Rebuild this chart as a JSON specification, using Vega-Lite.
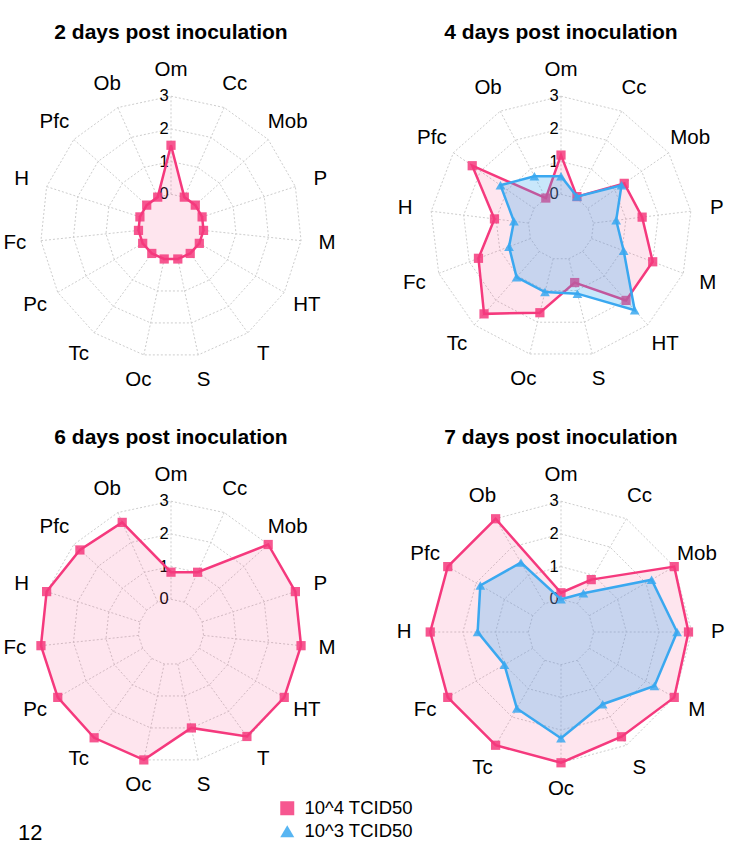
{
  "$schema": "https://vega.github.io/schema/vega-lite/v6.json",
  "padding": {"left": 1, "top": 22, "right": 0, "bottom": 0},
  "data": {"values": [
    {"panel": "2 days post inoculation", "series": "10^4 TCID50", "axis": "Om", "value": 1.5},
    {"panel": "2 days post inoculation", "series": "10^4 TCID50", "axis": "Cc", "value": 0},
    {"panel": "2 days post inoculation", "series": "10^4 TCID50", "axis": "Mob", "value": 0},
    {"panel": "2 days post inoculation", "series": "10^4 TCID50", "axis": "P", "value": 0},
    {"panel": "2 days post inoculation", "series": "10^4 TCID50", "axis": "M", "value": 0},
    {"panel": "2 days post inoculation", "series": "10^4 TCID50", "axis": "HT", "value": 0},
    {"panel": "2 days post inoculation", "series": "10^4 TCID50", "axis": "T", "value": 0},
    {"panel": "2 days post inoculation", "series": "10^4 TCID50", "axis": "S", "value": 0},
    {"panel": "2 days post inoculation", "series": "10^4 TCID50", "axis": "Oc", "value": 0},
    {"panel": "2 days post inoculation", "series": "10^4 TCID50", "axis": "Tc", "value": 0},
    {"panel": "2 days post inoculation", "series": "10^4 TCID50", "axis": "Pc", "value": 0},
    {"panel": "2 days post inoculation", "series": "10^4 TCID50", "axis": "Fc", "value": 0},
    {"panel": "2 days post inoculation", "series": "10^4 TCID50", "axis": "H", "value": 0},
    {"panel": "2 days post inoculation", "series": "10^4 TCID50", "axis": "Pfc", "value": 0},
    {"panel": "2 days post inoculation", "series": "10^4 TCID50", "axis": "Ob", "value": 0},

    {"panel": "4 days post inoculation", "series": "10^4 TCID50", "axis": "Om", "value": 1.2},
    {"panel": "4 days post inoculation", "series": "10^4 TCID50", "axis": "Cc", "value": 0.05},
    {"panel": "4 days post inoculation", "series": "10^4 TCID50", "axis": "Mob", "value": 1.35},
    {"panel": "4 days post inoculation", "series": "10^4 TCID50", "axis": "P", "value": 1.5},
    {"panel": "4 days post inoculation", "series": "10^4 TCID50", "axis": "M", "value": 2.0},
    {"panel": "4 days post inoculation", "series": "10^4 TCID50", "axis": "HT", "value": 2.0},
    {"panel": "4 days post inoculation", "series": "10^4 TCID50", "axis": "S", "value": 0.75},
    {"panel": "4 days post inoculation", "series": "10^4 TCID50", "axis": "Oc", "value": 1.7},
    {"panel": "4 days post inoculation", "series": "10^4 TCID50", "axis": "Tc", "value": 2.55},
    {"panel": "4 days post inoculation", "series": "10^4 TCID50", "axis": "Fc", "value": 1.7},
    {"panel": "4 days post inoculation", "series": "10^4 TCID50", "axis": "H", "value": 1.05},
    {"panel": "4 days post inoculation", "series": "10^4 TCID50", "axis": "Pfc", "value": 2.3},
    {"panel": "4 days post inoculation", "series": "10^4 TCID50", "axis": "Ob", "value": 0},
    {"panel": "4 days post inoculation", "series": "10^3 TCID50", "axis": "Om", "value": 0.55},
    {"panel": "4 days post inoculation", "series": "10^3 TCID50", "axis": "Cc", "value": 0.05},
    {"panel": "4 days post inoculation", "series": "10^3 TCID50", "axis": "Mob", "value": 1.25},
    {"panel": "4 days post inoculation", "series": "10^3 TCID50", "axis": "P", "value": 0.7},
    {"panel": "4 days post inoculation", "series": "10^3 TCID50", "axis": "M", "value": 1.05},
    {"panel": "4 days post inoculation", "series": "10^3 TCID50", "axis": "HT", "value": 2.4},
    {"panel": "4 days post inoculation", "series": "10^3 TCID50", "axis": "S", "value": 1.1},
    {"panel": "4 days post inoculation", "series": "10^3 TCID50", "axis": "Oc", "value": 1.05},
    {"panel": "4 days post inoculation", "series": "10^3 TCID50", "axis": "Tc", "value": 1.05},
    {"panel": "4 days post inoculation", "series": "10^3 TCID50", "axis": "Fc", "value": 0.7},
    {"panel": "4 days post inoculation", "series": "10^3 TCID50", "axis": "H", "value": 0.45},
    {"panel": "4 days post inoculation", "series": "10^3 TCID50", "axis": "Pfc", "value": 1.25},
    {"panel": "4 days post inoculation", "series": "10^3 TCID50", "axis": "Ob", "value": 0.75},

    {"panel": "6 days post inoculation", "series": "10^4 TCID50", "axis": "Om", "value": 0.83},
    {"panel": "6 days post inoculation", "series": "10^4 TCID50", "axis": "Cc", "value": 1.0},
    {"panel": "6 days post inoculation", "series": "10^4 TCID50", "axis": "Mob", "value": 3.0},
    {"panel": "6 days post inoculation", "series": "10^4 TCID50", "axis": "P", "value": 3.0},
    {"panel": "6 days post inoculation", "series": "10^4 TCID50", "axis": "M", "value": 3.0},
    {"panel": "6 days post inoculation", "series": "10^4 TCID50", "axis": "HT", "value": 3.0},
    {"panel": "6 days post inoculation", "series": "10^4 TCID50", "axis": "T", "value": 2.95},
    {"panel": "6 days post inoculation", "series": "10^4 TCID50", "axis": "S", "value": 2.0},
    {"panel": "6 days post inoculation", "series": "10^4 TCID50", "axis": "Oc", "value": 3.0},
    {"panel": "6 days post inoculation", "series": "10^4 TCID50", "axis": "Tc", "value": 3.0},
    {"panel": "6 days post inoculation", "series": "10^4 TCID50", "axis": "Pc", "value": 3.0},
    {"panel": "6 days post inoculation", "series": "10^4 TCID50", "axis": "Fc", "value": 3.0},
    {"panel": "6 days post inoculation", "series": "10^4 TCID50", "axis": "H", "value": 3.0},
    {"panel": "6 days post inoculation", "series": "10^4 TCID50", "axis": "Pfc", "value": 2.75},
    {"panel": "6 days post inoculation", "series": "10^4 TCID50", "axis": "Ob", "value": 2.67},

    {"panel": "7 days post inoculation", "series": "10^4 TCID50", "axis": "Om", "value": 0.2},
    {"panel": "7 days post inoculation", "series": "10^4 TCID50", "axis": "Cc", "value": 0.85},
    {"panel": "7 days post inoculation", "series": "10^4 TCID50", "axis": "Mob", "value": 3.0},
    {"panel": "7 days post inoculation", "series": "10^4 TCID50", "axis": "P", "value": 2.9},
    {"panel": "7 days post inoculation", "series": "10^4 TCID50", "axis": "M", "value": 3.0},
    {"panel": "7 days post inoculation", "series": "10^4 TCID50", "axis": "S", "value": 2.7},
    {"panel": "7 days post inoculation", "series": "10^4 TCID50", "axis": "Oc", "value": 3.0},
    {"panel": "7 days post inoculation", "series": "10^4 TCID50", "axis": "Tc", "value": 3.0},
    {"panel": "7 days post inoculation", "series": "10^4 TCID50", "axis": "Fc", "value": 3.0},
    {"panel": "7 days post inoculation", "series": "10^4 TCID50", "axis": "H", "value": 3.0},
    {"panel": "7 days post inoculation", "series": "10^4 TCID50", "axis": "Pfc", "value": 3.0},
    {"panel": "7 days post inoculation", "series": "10^4 TCID50", "axis": "Ob", "value": 3.0},
    {"panel": "7 days post inoculation", "series": "10^3 TCID50", "axis": "Om", "value": 0},
    {"panel": "7 days post inoculation", "series": "10^3 TCID50", "axis": "Cc", "value": 0.37},
    {"panel": "7 days post inoculation", "series": "10^3 TCID50", "axis": "Mob", "value": 2.2},
    {"panel": "7 days post inoculation", "series": "10^3 TCID50", "axis": "P", "value": 2.55},
    {"panel": "7 days post inoculation", "series": "10^3 TCID50", "axis": "M", "value": 2.3},
    {"panel": "7 days post inoculation", "series": "10^3 TCID50", "axis": "S", "value": 1.55},
    {"panel": "7 days post inoculation", "series": "10^3 TCID50", "axis": "Oc", "value": 2.25},
    {"panel": "7 days post inoculation", "series": "10^3 TCID50", "axis": "Tc", "value": 1.7},
    {"panel": "7 days post inoculation", "series": "10^3 TCID50", "axis": "Fc", "value": 1.0},
    {"panel": "7 days post inoculation", "series": "10^3 TCID50", "axis": "H", "value": 1.55},
    {"panel": "7 days post inoculation", "series": "10^3 TCID50", "axis": "Pfc", "value": 1.85},
    {"panel": "7 days post inoculation", "series": "10^3 TCID50", "axis": "Ob", "value": 1.45}
  ]},
  "transform": [
    {"window": [{"op": "row_number", "as": "idx"}], "groupby": ["panel", "series"]},
    {"joinaggregate": [{"op": "count", "as": "n"}], "groupby": ["panel", "series"]},
    {"calculate": "2*PI*(datum.idx-1)/datum.n", "as": "theta"},
    {"calculate": "(datum.value+1)/4*sin(datum.theta)", "as": "px"},
    {"calculate": "(datum.value+1)/4*cos(datum.theta)", "as": "py"}
  ],
  "facet": {
    "field": "panel", "type": "nominal",
    "header": {"title": null, "labelFontSize": 21, "labelFontWeight": "bold", "labelFont": "Liberation Sans", "labelColor": "#000000", "labelPadding": 14}
  },
  "columns": 2,
  "spacing": {"row": 30, "column": 50},
  "spec": {
    "width": 340,
    "height": 340,
    "encoding": {
      "x": {"type": "quantitative", "scale": {"domain": [-1.3, 1.3], "nice": false, "zero": false}, "axis": null},
      "y": {"type": "quantitative", "scale": {"domain": [-1.3, 1.3], "nice": false, "zero": false}, "axis": null}
    },
    "layer": [
      {
        "transform": [
          {"filter": "datum.series == '10^4 TCID50'"},
          {"calculate": "[0,1,2,3]", "as": "level"},
          {"flatten": ["level"]},
          {"calculate": "(datum.level+1)/4*sin(datum.theta)", "as": "gx"},
          {"calculate": "(datum.level+1)/4*cos(datum.theta)", "as": "gy"}
        ],
        "mark": {"type": "line", "interpolate": "linear-closed", "stroke": "#CDCDCD", "strokeWidth": 1, "strokeDash": [2, 2]},
        "encoding": {
          "x": {"field": "gx", "type": "quantitative"},
          "y": {"field": "gy", "type": "quantitative"},
          "detail": {"field": "level", "type": "nominal"},
          "order": {"field": "idx", "type": "quantitative"}
        }
      },
      {
        "transform": [
          {"filter": "datum.series == '10^4 TCID50'"},
          {"calculate": "0.25*sin(datum.theta)", "as": "sx1"},
          {"calculate": "0.25*cos(datum.theta)", "as": "sy1"},
          {"calculate": "sin(datum.theta)", "as": "sx2"},
          {"calculate": "cos(datum.theta)", "as": "sy2"}
        ],
        "mark": {"type": "rule", "stroke": "#CDCDCD", "strokeWidth": 1, "strokeDash": [2, 2]},
        "encoding": {
          "x": {"field": "sx1", "type": "quantitative"},
          "y": {"field": "sy1", "type": "quantitative"},
          "x2": {"field": "sx2"},
          "y2": {"field": "sy2"}
        }
      },
      {
        "transform": [
          {"filter": "datum.series == '10^4 TCID50' && datum.idx == 1"},
          {"calculate": "[0,1,2,3]", "as": "level"},
          {"flatten": ["level"]},
          {"calculate": "(datum.level+1)/4", "as": "ty"}
        ],
        "mark": {"type": "text", "fontSize": 16.5, "font": "Liberation Sans", "color": "#000000", "dx": -7, "baseline": "middle", "align": "center"},
        "encoding": {
          "x": {"field": "px", "type": "quantitative"},
          "y": {"field": "ty", "type": "quantitative"},
          "text": {"field": "level", "type": "nominal"}
        }
      },
      {
        "transform": [{"filter": "datum.series == '10^4 TCID50'"}],
        "mark": {"type": "line", "interpolate": "linear-closed", "stroke": "#F5397D", "strokeWidth": 2.5, "fill": "#F5397D", "fillOpacity": 0.13},
        "encoding": {
          "x": {"field": "px", "type": "quantitative"},
          "y": {"field": "py", "type": "quantitative"},
          "order": {"field": "idx", "type": "quantitative"}
        }
      },
      {
        "transform": [{"filter": "datum.series == '10^4 TCID50'"}],
        "mark": {"type": "point", "filled": true, "size": 85, "opacity": 0.85},
        "encoding": {
          "x": {"field": "px", "type": "quantitative"},
          "y": {"field": "py", "type": "quantitative"},
          "color": {"field": "series", "type": "nominal", "scale": {"domain": ["10^4 TCID50", "10^3 TCID50"], "range": ["#F5397D", "#3AA8F0"]}, "legend": {"title": null, "orient": "none", "legendX": 277, "legendY": 742, "labelFontSize": 18.5, "labelFont": "Liberation Sans", "labelColor": "#000000", "symbolSize": 196, "rowPadding": 4, "labelOffset": 8}},
          "shape": {"field": "series", "type": "nominal", "scale": {"domain": ["10^4 TCID50", "10^3 TCID50"], "range": ["square", "triangle-up"]}, "legend": {"title": null, "orient": "none", "legendX": 277, "legendY": 742, "labelFontSize": 18.5, "labelFont": "Liberation Sans", "labelColor": "#000000", "symbolSize": 196, "rowPadding": 4, "labelOffset": 8}}
        }
      },
      {
        "transform": [{"filter": "datum.series == '10^3 TCID50'"}],
        "mark": {"type": "line", "interpolate": "linear-closed", "stroke": "#3AA8F0", "strokeWidth": 2.5, "fill": "#3AA8F0", "fillOpacity": 0.28},
        "encoding": {
          "x": {"field": "px", "type": "quantitative"},
          "y": {"field": "py", "type": "quantitative"},
          "order": {"field": "idx", "type": "quantitative"}
        }
      },
      {
        "transform": [{"filter": "datum.series == '10^3 TCID50'"}],
        "mark": {"type": "point", "filled": true, "size": 95, "opacity": 0.85},
        "encoding": {
          "x": {"field": "px", "type": "quantitative"},
          "y": {"field": "py", "type": "quantitative"},
          "color": {"field": "series", "type": "nominal"},
          "shape": {"field": "series", "type": "nominal"}
        }
      },
      {
        "transform": [
          {"filter": "datum.series == '10^4 TCID50'"},
          {"calculate": "1.2*sin(datum.theta)", "as": "lx"},
          {"calculate": "1.2*cos(datum.theta)", "as": "ly"}
        ],
        "mark": {"type": "text", "fontSize": 20.5, "font": "Liberation Sans", "color": "#000000", "align": "center", "baseline": "middle"},
        "encoding": {
          "x": {"field": "lx", "type": "quantitative"},
          "y": {"field": "ly", "type": "quantitative"},
          "text": {"field": "axis", "type": "nominal"}
        }
      }
    ]
  },
  "title": {"text": "12", "orient": "bottom", "anchor": "start", "fontSize": 22, "fontWeight": "normal", "font": "Liberation Sans", "color": "#000000", "offset": -18, "dx": 17},
  "config": {"view": {"stroke": null}}
}
